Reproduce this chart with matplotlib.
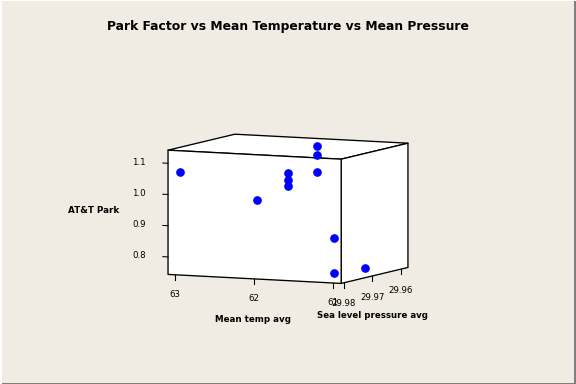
import numpy as np
import matplotlib
matplotlib.use('Agg')
from matplotlib import pyplot as plt
from mpl_toolkits.mplot3d.art3d import Poly3DCollection
from mpl_toolkits.mplot3d import proj3d

# data (temp, sea level pressure, park factor)
mean_temp = [62.975, 61.995, 61.785, 61.785, 61.785, 61.885, 61.885, 61.885, 61.025, 61.025, 60.995]
sea_pressure = [29.980, 29.980, 29.975, 29.975, 29.975, 29.962, 29.962, 29.962, 29.980, 29.980, 29.970]
park_factor = [1.073, 0.994, 1.073, 1.050, 1.031, 1.130, 1.100, 1.046, 0.887, 0.773, 0.769]

temp_ticks = [63, 62, 61]
pres_ticks = [29.98, 29.97, 29.96]
pf_ticks = [0.8, 0.9, 1.0, 1.1]

xlim = (60.9, 63.09)
ylim = (29.9575, 29.981)
zlim = (0.744, 1.142)

bg = '#F0ECE3'
fig = plt.figure(figsize=(6, 4), dpi=96, facecolor=bg)
ax = fig.add_axes([-0.0083, -0.0162, 1.0, 0.92], projection='3d', proj_type='ortho')
ax.set_facecolor(bg)
ax.patch.set_alpha(0)
ax.set_xlim(*xlim)
ax.set_ylim(*ylim)
ax.set_zlim(*zlim)
ax.set_box_aspect((191, 158, 125), zoom=0.763)
ax.view_init(elev=6.4, azim=115)
ax.set_axis_off()
ax.computed_zorder = False

x0, x1 = xlim
y0, y1 = ylim
z0, z1 = zlim
dx = x1 - x0
dz = z1 - z0

# visible faces of the box: front (y=y1), top (z=z1), right (x=x0)
faces = [
    [(x0, y1, z0), (x1, y1, z0), (x1, y1, z1), (x0, y1, z1)],
    [(x0, y0, z1), (x1, y0, z1), (x1, y1, z1), (x0, y1, z1)],
    [(x0, y0, z0), (x0, y1, z0), (x0, y1, z1), (x0, y0, z1)],
]
box = Poly3DCollection(faces, facecolor='white', edgecolor='black', linewidth=1.0)
box.set_zorder(1)
ax.add_collection3d(box)

ax.scatter(mean_temp, sea_pressure, park_factor, color='#0000FF', s=30,
           depthshade=False, zorder=3)

# tick marks
for t in temp_ticks:
    ax.plot([t, t], [y1, y1], [z0, z0 - 0.04 * dz], color='black', lw=0.8, zorder=2)
for p in pres_ticks:
    ax.plot([x0, x0], [p, p], [z0, z0 - 0.04 * dz], color='black', lw=0.8, zorder=2)
for v in pf_ticks:
    ax.plot([x1, x1 + 0.03 * dx], [y1, y1], [v, v], color='black', lw=0.8, zorder=2)

fig.canvas.draw()
M = ax.get_proj()


def label3d(x, y, z, s, **kw):
    # project the 3d anchor and place a flat 2d text there
    px, py, _ = proj3d.proj_transform(x, y, z, M)
    ax.text2D(px, py, s, transform=ax.transData, **kw)


for t in temp_ticks:
    label3d(t, y1, z0 - 0.155 * dz, str(t), fontsize=6.5, ha='center', va='center')
for p in pres_ticks:
    label3d(x0, p, z0 - 0.17 * dz, '%.2f' % p, fontsize=6.5, ha='center', va='center')
for v in pf_ticks:
    label3d(x1 + 0.128 * dx, y1, v, '%.1f' % v, fontsize=6.5, ha='right', va='center')

label3d(x1 + 0.43 * dx, y1, 0.936, 'AT&T Park', fontsize=6.6, fontweight='bold',
        ha='center', va='center')
label3d(62.02, y1, z0 - 0.33 * dz, 'Mean temp avg', fontsize=6.6, fontweight='bold',
        ha='center', va='center')
label3d(x0, 29.97, z0 - 0.317 * dz, 'Sea level pressure avg', fontsize=6.5,
        fontweight='bold', ha='center', va='center')

fig.text(0.5, 0.93, 'Park Factor vs Mean Temperature vs Mean Pressure',
         fontsize=9.3, fontweight='bold', ha='center', va='center')

# window style frame
fig.add_artist(plt.Line2D([0, 1], [0.001, 0.001], color='#7F7F7F', lw=1.5))
fig.add_artist(plt.Line2D([0.999, 0.999], [0, 1], color='#7F7F7F', lw=1.5))
fig.add_artist(plt.Line2D([0, 1], [0.999, 0.999], color='white', lw=1.5))
fig.add_artist(plt.Line2D([0.001, 0.001], [0, 1], color='white', lw=1.5))

fig.savefig('out.png', dpi=96, facecolor=bg)
